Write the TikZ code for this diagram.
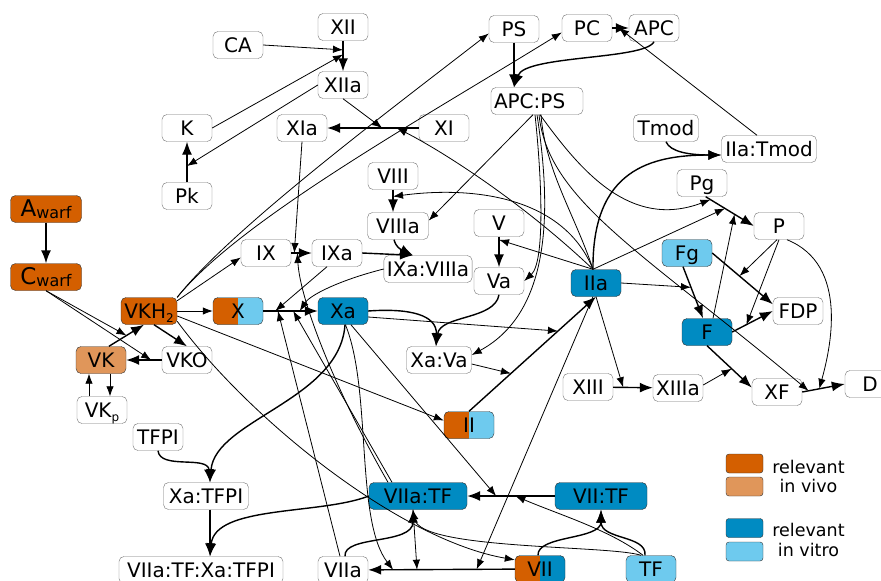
\documentclass[tikz,border=0pt]{standalone}
\usepackage{fontspec}
\setmainfont{DejaVu Sans}
\usetikzlibrary{arrows.meta,calc}
\definecolor{vivo}{RGB}{212,95,0}
\definecolor{vivolight}{RGB}{224,150,90}
\definecolor{vitro}{RGB}{0,139,194}
\definecolor{vitrolight}{RGB}{110,202,238}
\newcommand\warf{\raisebox{-1.5pt}{\fontsize{16}{16}\selectfont warf}}
\newcommand\lowsub[1]{\raisebox{-4pt}{\fontsize{12}{12}\selectfont #1}}
\tikzset{
        factor/.style={ % every species box
                draw=black!55, fill=white, rounded corners=5pt,
                minimum width=50pt, minimum height=27pt, inner sep=3pt,
                text height=17pt, text depth=2pt,
                font=\fontsize{20}{24}\selectfont,
        },
        vivo box/.style={factor, draw=black!80, fill=vivo},
        vivolight box/.style={factor, draw=black!80, fill=vivolight},
        vitro box/.style={factor, draw=black!80, fill=vitro},
        vitrolight box/.style={factor, draw=black!80, fill=vitrolight},
        split box/.style 2 args={factor, draw=black!80, fill=#2, % left half #1, right half #2
                path picture={\fill[#1, sharp corners] (path picture bounding box.south west) rectangle (path picture bounding box.north);},
        },
        react/.style={-{Latex[length=13pt,width=10pt]}, line width=1.4pt}, % one species turns into another
        cat/.style={-{Latex[length=10pt,width=7.5pt]}, line width=0.8pt}, % catalysis, ends on a reaction
        key/.style={draw=black!80, rounded corners=3pt, minimum width=37pt, minimum height=19pt, inner sep=0pt},
        key text/.style={anchor=base, inner sep=0pt, font=\fontsize{17.5}{20}\selectfont},
}
\begin{document}
\begin{tikzpicture}[x=1pt, y=-1pt]
    \useasboundingbox (0,0) rectangle (881,581);
    % species
    \node[factor] (CA) at (238,45) {CA};
    \node[factor] (XII) at (343,27) {XII};
    \node[factor] (XIIa) at (343,85) {XIIa};
    \node[factor] (K) at (187,128) {K};
    \node[factor] (Pk) at (187,196) {Pk};
    \node[factor] (XIa) at (302,128) {XIa};
    \node[factor] (XI) at (444,128) {XI};
    \node[factor] (PS) at (514,29) {PS};
    \node[factor] (PC) at (587,28) {PC};
    \node[factor] (APC) at (654,28) {APC};
    \node[factor, text width=86pt, align=left] (APCPS) at (537,101) {APC:PS};
    \node[factor, minimum width=65pt] (Tmod) at (666,128) {Tmod};
    \node[factor, minimum width=95pt] (IIaTmod) at (769,149) {IIa:Tmod};
    \node[factor] (Pg) at (702,183) {Pg};
    \node[factor] (P) at (779,226) {P};
    \node[vitrolight box] (Fg) at (687,253) {Fg};
    \node[factor] (FDP) at (798,311) {FDP};
    \node[vitro box] (F) at (707,332) {F};
    \node[factor] (XF) at (777,392) {XF};
    \node[factor] (D) at (870,384) {D};
    \node[factor] (XIII) at (588,387) {XIII};
    \node[factor] (XIIIa) at (678,388) {XIIIa};
    \node[vitro box] (IIa) at (596,283) {IIa};
    \node[factor] (V) at (499,223) {V};
    \node[factor] (Va) at (499,281) {Va};
    \node[factor] (VIII) at (393,176) {VIII};
    \node[factor, minimum width=61pt] (VIIIa) at (398,226) {VIIIa};
    \node[factor, minimum width=86pt] (IXaVIIIa) at (428,269) {IXa:VIIIa};
    \node[factor] (IX) at (266,253) {IX};
    \node[factor] (IXa) at (337,253) {IXa};
    \node[vivo box, minimum width=71pt] (Awarf) at (46,209) {{\fontsize{23}{24}\selectfont A}\warf};
    \node[vivo box, minimum width=71pt] (Cwarf) at (46,277) {{\fontsize{23}{24}\selectfont C}\warf};
    \node[vivo box, minimum width=56pt] (VKH2) at (149,311) {VKH\lowsub{2}};
    \node[split box={vivo}{vitrolight}] (X) at (238,311) {X};
    \node[vitro box] (Xa) at (343,311) {Xa};
    \node[vivolight box] (VK) at (101,360) {VK};
    \node[factor] (VKO) at (187,360) {VKO};
    \node[factor] (VKp) at (102,410) {VK\lowsub{p}};
    \node[factor, minimum width=65pt] (XaVa) at (439,360) {Xa:Va};
    \node[split box={vivo}{vitrolight}] (II) at (469,425) {II};
    \node[factor] (TFPI) at (158,437) {TFPI};
    \node[factor, minimum width=85pt] (XaTFPI) at (206,496) {Xa:TFPI};
    \node[vitro box, minimum width=98pt] (VIIaTF) at (418,496) {VIIa:TF};
    \node[vitro box, minimum width=92pt] (VIITF) at (601,496) {VII:TF};
    \node[factor, minimum width=164pt] (VIIaTFXaTFPI) at (201,570) {VIIa:TF:Xa:TFPI};
    \node[factor] (VIIa) at (343,570) {VIIa};
    \node[split box={vivo}{vitro}] (VII) at (540,569) {VII};
    \node[vitrolight box] (TF) at (651,569) {TF};

    % legend
    \node[key, fill=vivo] (kvivo) at (744.5,463.5) {};
    \node[key, fill=vivolight] (kvivolight) at (744.5,486.5) {};
    \node[key, fill=vitro] (kvitro) at (744.5,528) {};
    \node[key, fill=vitrolight] (kvitrolight) at (744.5,551.5) {};
    \node[key text] (tvivo) at (808.5,473) {relevant};
    \node[key text] (tvivo2) at (808.5,492) {in vivo};
    \node[key text] (tvitro) at (808.5,536) {relevant};
    \node[key text] (tvitro2) at (808.5,556) {in vitro};

    % ends of some reactions
    \coordinate (rFg) at ([xshift=-4pt]Fg.south);
    \coordinate (rF) at ([xshift=-4pt]F.north);
    \coordinate (rVIIIa) at (VIII.south |- VIIIa.north);
    \coordinate (inAP) at (PS |- APCPS.north);
    \coordinate (inIT) at ([yshift=-6pt]IIaTmod.west);
    \coordinate (inIXa) at ([xshift=-15pt]IXaVIIIa.north);
    \coordinate (inXV) at ([xshift=-3pt]XaVa.north);
    \coordinate (inXT) at ([xshift=4pt]XaTFPI.north);
    \coordinate (inVT) at ([xshift=9pt]VIIaTFXaTFPI.north);
    \coordinate (inVIIa) at ([xshift=-5pt]VIIaTF.south);
    \coordinate (inVII) at (VIITF.south);

    % conversions
    \draw[react] (Awarf) -- (Cwarf);
    \draw[react] (XII) -- (XIIa);
    \draw[react] (Pk) -- (K);
    \draw[react] (XI) -- (XIa);
    \draw[react] (IX) -- (IXa);
    \draw[react] (VIII.south) -- (rVIIIa);
    \draw[react] (V) -- (Va);
    \draw[react] (X) -- (Xa);
    \draw[react] (II.north) -- (IIa.south);
    \draw[react] (XIII) -- (XIIIa);
    \draw[react] (PC) -- (APC);
    \draw[react] (Pg.-75) -- (P.west);
    \draw[react] (rFg) -- (rF);
    \draw[react] (Fg.east) -- (FDP.165);
    \draw[react] (F.east) -- (FDP.west);
    \draw[react] (F.south) -- (XF.170);
    \draw[react] (XF.east) -- (D.west);
    \draw[react] (VII) -- (VIIa);
    \draw[react] (VIITF) -- (VIIaTF);
    \draw[react] (VK.60) -- (VKH2.250);
    \draw[react] (VKH2.290) -- (VKO.north);
    \draw[react] (VKO) -- (VK);

    % complexes
    \draw[react] (PS) -- (inAP);
    \draw[react] (APC.south) .. controls (645,60) and (525,55) .. (inAP);
    \draw[react] (Tmod.south) .. controls (670,152) and (690,155) .. (inIT);
    \draw[react] ([xshift=-3pt]IIa.north) .. controls (592,170) and (650,155) .. (inIT);
    \draw[react] (IXa.east) -- (inIXa);
    \draw[react] ([xshift=-4pt]VIIIa.south) .. controls (396,247) and (400,249) .. (inIXa);
    \draw[react] (Xa.east) .. controls (410,308) and (437,315) .. (inXV);
    \draw[react] (Va.south) .. controls (495,320) and (440,315) .. (inXV);
    \draw[react] (TFPI.south) .. controls (160,470) and (208,455) .. (inXT);
    \draw[react] ([xshift=2pt]Xa.south) .. controls (340,400) and (215,420) .. (inXT);
    \draw[react] (XaTFPI.south -| inVT) -- (inVT);
    \draw[react] (VIIaTF.west) .. controls (320,515) and (215,505) .. (inVT);
    \draw[react] ([xshift=2pt]VIIa.north) .. controls (343,535) and (413,545) .. (inVIIa);
    \draw[cat] ([xshift=-10pt]TF.north) .. controls (610,545) and (420,550) .. (inVIIa);
    \draw[react] ([xshift=-2pt]VII.north) .. controls (537,535) and (601,540) .. (inVII);
    \draw[react] ([xshift=-6pt]TF.north) .. controls (647,535) and (601,540) .. (inVII);

    % catalysis
    \draw[cat] (CA.east) -- ($(XII.south)!0.3!(XIIa.north)$);
    \draw[cat] (K.east) -- ($(XII.south)!0.45!(XIIa.north)$);
    \draw[cat] (XIIa.west) -- ($(Pk.north)!0.4!(K.south)$);
    \draw[cat] (XIIa.south) -- ($(XI.west)!0.4!(XIa.east)$);
    \draw[cat] ([xshift=-3pt]IIa.north) .. controls (520,200) and (440,150) .. ($(XI.west)!0.24!(XIa.east)$);
    \draw[cat] ([xshift=-3pt]IIa.north) .. controls (565,200) and (480,185) .. ($(VIII.south)!0.3!(rVIIIa)$);
    \draw[cat] ([xshift=-3pt]IIa.north) -- ($(V.south)!0.1!(Va.north)$);
    \draw[cat] ([xshift=-3pt]IIa.north) -- ($(Pg.-75)!0.4!(P.west)$);
    \draw[line width=0.8pt] ([xshift=-3pt]IIa.north) .. controls (575,215) and (545,170) .. ([xshift=4pt]APCPS.south);
    \draw[cat] (IIa.east) -- ($(rFg)!0.4!(rF)$);
    \draw[cat] (IIa.south) -- ($(XIII.east)!0.25!(XIIIa.west)$);
    \draw[cat] ([xshift=-3pt]IIa.south) -- ($(VII.west)!0.26!(VIIa.east)$);
    \draw[cat] ([xshift=-12pt]IIaTmod.north) -- ($(PC.east)!0.4!(APC.west)$);
    \draw[cat] ([xshift=-4pt]APCPS.south) -- (VIIIa.10);
    \draw[cat] ([xshift=-2pt]APCPS.south) .. controls (542,180) and (545,262) .. (Va.east);
    \draw[cat] (APCPS.south) .. controls (550,200) and (555,310) .. ([yshift=5pt]XaVa.east);
    \draw[cat] ([xshift=3pt]APCPS.south) .. controls (580,170) and (630,230) .. ($(Pg.-75)!0.1!(P.west)$);
    \draw[cat] ([xshift=2pt]APCPS.south) .. controls (548,200) and (640,250) .. ($(XF.east)!0.15!(D.west)$);
    \draw[cat] ([xshift=6pt]F.north) -- ($(Pg.-75)!0.6!(P.west)$);
    \draw[cat] ([xshift=-2pt]P.south) -- ($(Fg.east)!0.45!(FDP.165)$);
    \draw[cat] (P.south) -- ($(F.east)!0.35!(FDP.west)$);
    \draw[cat] (P.-60) .. controls (850,265) and (830,350) .. ($(XF.east)!0.4!(D.west)$);
    \draw[cat] ([yshift=3pt]XIIIa.east) -- ($(F.south)!0.55!(XF.170)$);
    \draw[cat] (Cwarf.south) -- ($(VK.60)!0.5!(VKH2.250)$);
    \draw[cat] (Cwarf.south) -- ($(VKO.west)!0.3!(VK.east)$);
    \draw[cat] ([xshift=9pt]VK.south) -- ([xshift=9pt]VK.south |- VKp.north);
    \draw[cat] ([xshift=-13pt]VKp.north) -- ([xshift=-13pt]VKp.north |- VK.south);
    \draw[cat] (VKH2.north east) .. controls (230,230) and (390,110) .. (PS.190);
    \draw[cat] (VKH2.north east) .. controls (240,220) and (420,120) .. (PC.190);
    \draw[cat] (VKH2.20) -- (IX.190);
    \draw[cat] (VKH2.east) -- (X.west);
    \draw[cat] (VKH2.-10) -- (II.170);
    \draw[cat] (VKH2.-20) .. controls (250,420) and (400,540) .. (VII.160);
    \draw[cat] (XIa.south) -- ($(IX.east)!0.15!(IXa.west)$);
    \draw[cat] ([xshift=-30pt]VIIaTF.north) .. controls (335,390) and (300,300) .. ($(IX.east)!0.3!(IXa.west)$);
    \draw[cat] ([xshift=-26pt]VIIaTF.north) -- ($(X.east)!0.55!(Xa.west)$);
    \draw[cat] ([xshift=-3pt]VIIa.north) -- ($(X.east)!0.27!(Xa.west)$);
    \draw[cat] ([xshift=-10pt]IXa.south) -- ($(X.east)!0.22!(Xa.west)$);
    \draw[cat] (IXaVIIIa.west) .. controls (340,280) and (310,295) .. ($(X.east)!0.67!(Xa.west)$);
    \draw[cat] ([yshift=-6pt]Xa.east) -- ($(II.north)!0.7!(IIa.south)$);
    \draw[cat] ([yshift=-4pt]XaVa.east) -- ($(II.north)!0.33!(IIa.south)$);
    \draw[cat] (Xa.-80) .. controls (372,390) and (355,520) .. ($(VII.west)!0.83!(VIIa.east)$);
    \draw[cat] (Xa.-60) -- ($(VIITF.west)!0.67!(VIIaTF.east)$);
    \draw[cat] (inVIIa) -- ($(VII.west)!0.667!(VIIa.east)$);
    \draw[cat] ([xshift=-8pt]TF.north) .. controls (610,530) and (560,515) .. ($(VIITF.west)!0.45!(VIIaTF.east)$);
\end{tikzpicture}
\end{document}
